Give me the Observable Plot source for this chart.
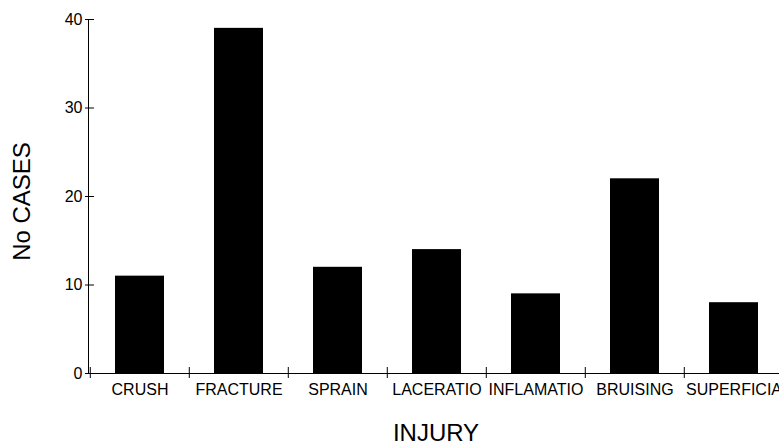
<!DOCTYPE html>
<html>
<head>
<meta charset="utf-8">
<script src="https://cdn.jsdelivr.net/npm/d3@7"></script>
<script src="https://cdn.jsdelivr.net/npm/@observablehq/plot@0.6"></script>
<style>
  html, body { margin: 0; padding: 0; background: #fff; overflow: hidden; }
  #chart svg { display: block; overflow: hidden; }
</style>
</head>
<body>
<div id="chart"></div>
<script>
const injuries = ["CRUSH", "FRACTURE", "SPRAIN", "LACERATIO", "INFLAMATIO", "BRUISING", "SUPERFICIA"];
const cases = [11, 39, 12, 14, 9, 22, 8];
const yTicks = [0, 10, 20, 30, 40];
const xTitle = "INJURY";
const yTitle = "No CASES";

const data = injuries.map((k, i) => ({injury: k, cases: cases[i]}));

const W = 779, H = 445;
const xRange = [88, 784];
const bw = (xRange[1] - xRange[0]) / injuries.length;
const font = "'Liberation Sans', Arial, sans-serif";

const chart = Plot.plot({
  width: W,
  height: H,
  marginLeft: 88,
  marginRight: 0,
  marginTop: 19,
  marginBottom: 72,
  style: {fontFamily: font, fontSize: "16px", color: "#000", background: "#fff"},
  x: {domain: injuries, range: xRange, padding: 0},
  y: {domain: [0, 40]},
  marks: [
    Plot.barY(data, {x: "injury", y: "cases", fill: "#000", insetLeft: 25, insetRight: 25}),
    Plot.ruleY([0], {stroke: "#000", strokeWidth: 1}),
    Plot.frame({anchor: "left", stroke: "#000"}),
    Plot.axisY({ticks: yTicks, tickSize: 9, tickPadding: 3, dx: 6, label: null, stroke: "#000", fill: "#000", fontSize: 16}),
    Plot.axisX({tickSize: 11, dy: -6, dx: -bw / 2, tickFormat: () => "", label: null, stroke: "#000"}),
    Plot.axisX({tickSize: 0, tickPadding: 10, label: null, fill: "#000", fontSize: 16}),
    Plot.text([yTitle], {text: d => d, frameAnchor: "left", dx: -66, dy: 5, rotate: -90, fontSize: 24, fill: "#000", textAnchor: "middle", lineAnchor: "middle"}),
    Plot.text([xTitle], {text: d => d, frameAnchor: "bottom", dx: 2, dy: 50, fontSize: 24, fill: "#000", textAnchor: "middle", lineAnchor: "top"})
  ]
});
document.getElementById("chart").appendChild(chart);
</script>
</body>
</html>
